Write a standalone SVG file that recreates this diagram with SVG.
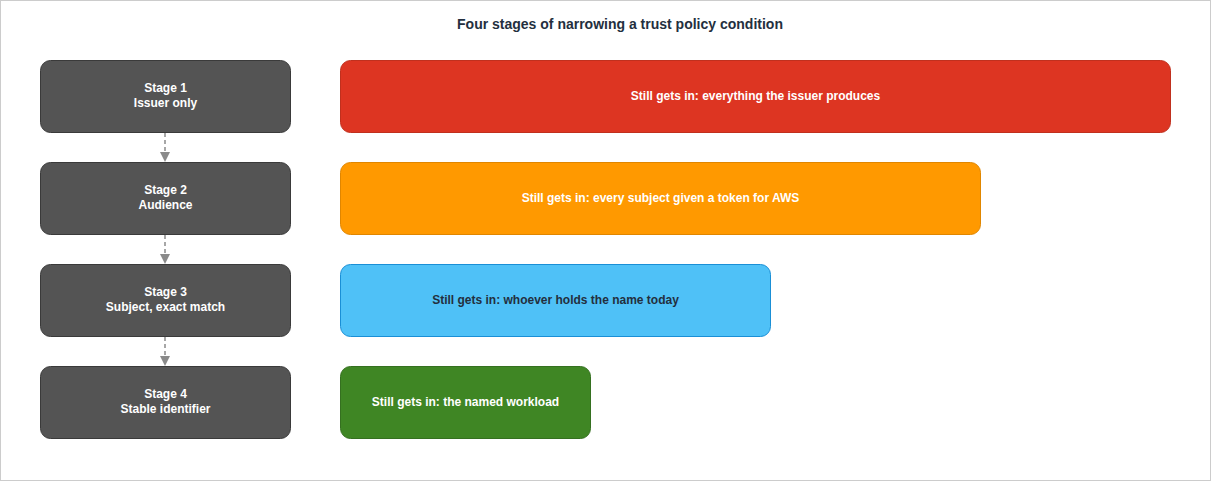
<svg xmlns="http://www.w3.org/2000/svg" width="1212" height="482" viewBox="0 0 1212 482">
<defs>
<style>
.stage{fill:#545454;stroke:#3a3a3a;stroke-width:1}
.t{font-family:"Liberation Sans",Arial,sans-serif;font-size:12px;font-weight:bold;text-anchor:middle}
.w{fill:#ffffff}
.d{fill:#232f3e}
.conn{stroke:#8a8a8a;stroke-width:1.5;stroke-dasharray:4 3;fill:none}
</style>
<marker id="arr" markerWidth="10" markerHeight="10" refX="9" refY="5" orient="auto" markerUnits="userSpaceOnUse">
<path d="M0,0 L10,5 L0,10 Z" fill="#8a8a8a"/>
</marker>
</defs>
<rect x="0" y="0" width="1212" height="482" fill="#ffffff"/>
<rect x="0.5" y="0.5" width="1210" height="480" fill="none" stroke="#cccccc" stroke-width="1"/>
<text x="620" y="29" class="t" style="font-size:14px" fill="#232f3e">Four stages of narrowing a trust policy condition</text>

<g id="connectors">
<line class="conn" x1="165" y1="133" x2="165" y2="161" marker-end="url(#arr)"/>
<line class="conn" x1="165" y1="235" x2="165" y2="263" marker-end="url(#arr)"/>
<line class="conn" x1="165" y1="337" x2="165" y2="365" marker-end="url(#arr)"/>
</g>

<g id="stage1">
<rect class="stage" x="40.5" y="60.5" width="250" height="72" rx="10"/>
<text class="t w" x="165.5" y="92">Stage 1</text>
<text class="t w" x="165.5" y="107">Issuer only</text>
</g>
<g id="stage2">
<rect class="stage" x="40.5" y="162.5" width="250" height="72" rx="10"/>
<text class="t w" x="165.5" y="194">Stage 2</text>
<text class="t w" x="165.5" y="209">Audience</text>
</g>
<g id="stage3">
<rect class="stage" x="40.5" y="264.5" width="250" height="72" rx="10"/>
<text class="t w" x="165.5" y="296">Stage 3</text>
<text class="t w" x="165.5" y="311">Subject, exact match</text>
</g>
<g id="stage4">
<rect class="stage" x="40.5" y="366.5" width="250" height="72" rx="10"/>
<text class="t w" x="165.5" y="398">Stage 4</text>
<text class="t w" x="165.5" y="413">Stable identifier</text>
</g>

<g id="gets1">
<rect x="340.5" y="60.5" width="830" height="72" rx="10" fill="#dd3522" stroke="#c0301e"/>
<text class="t w" x="755.5" y="100">Still gets in: everything the issuer produces</text>
</g>
<g id="gets2">
<rect x="340.5" y="162.5" width="640" height="72" rx="10" fill="#ff9900" stroke="#e08600"/>
<text class="t w" x="660.5" y="202">Still gets in: every subject given a token for AWS</text>
</g>
<g id="gets3">
<rect x="340.5" y="264.5" width="430" height="72" rx="10" fill="#4fc1f7" stroke="#1a8fd6"/>
<text class="t d" x="555.5" y="304">Still gets in: whoever holds the name today</text>
</g>
<g id="gets4">
<rect x="340.5" y="366.5" width="250" height="72" rx="10" fill="#3f8624" stroke="#357020"/>
<text class="t w" x="465.5" y="406">Still gets in: the named workload</text>
</g>
</svg>
